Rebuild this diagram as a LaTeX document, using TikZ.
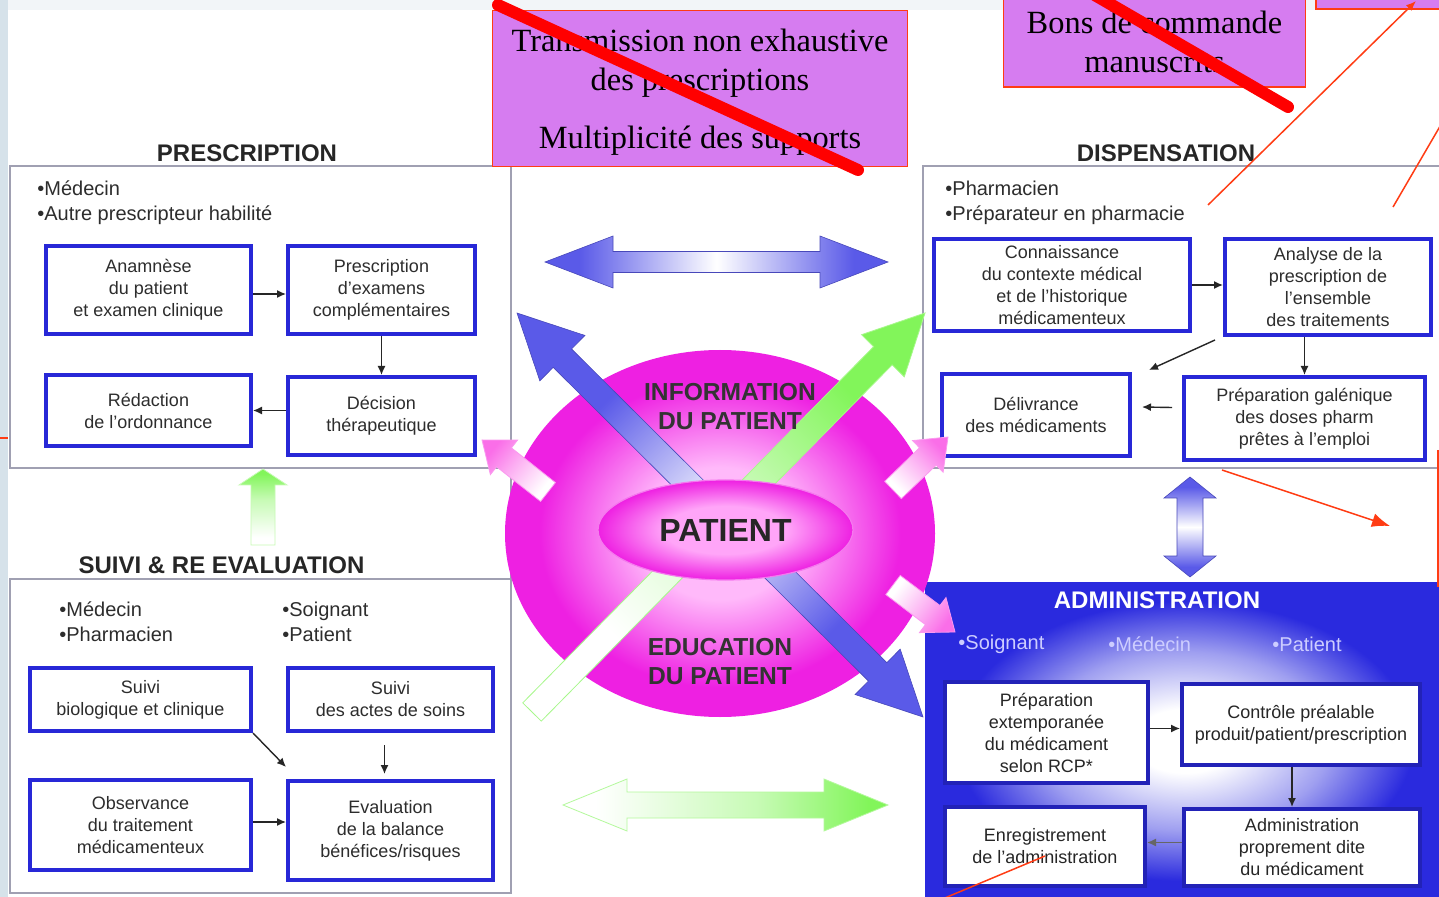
\documentclass[tikz,border=0pt]{standalone}
\usepackage{fontspec}
\setmainfont{Liberation Sans}
\newfontfamily\serifrm{Liberation Serif}
\usetikzlibrary{calc,arrows.meta,shapes.geometric}

\definecolor{boxblue}{RGB}{40,40,215}
\definecolor{grayline}{RGB}{160,160,178}
\definecolor{txt}{RGB}{45,45,45}
\definecolor{ablue}{RGB}{90,90,232}
\definecolor{admblue}{RGB}{42,42,222}
\definecolor{purplebox}{RGB}{214,124,240}
\definecolor{redline}{RGB}{255,60,20}
\definecolor{strike}{RGB}{255,0,0}
\definecolor{mag}{RGB}{238,32,226}
\definecolor{lightmag}{RGB}{255,185,250}
\definecolor{patin}{RGB}{255,165,248}
\definecolor{agreen}{RGB}{130,245,90}
\definecolor{pinkarr}{RGB}{250,110,232}
\definecolor{leftstrip}{RGB}{214,226,234}
\definecolor{topstrip}{RGB}{242,245,248}
\definecolor{lav}{RGB}{205,205,255}

\pgfdeclareradialshading{bigellsh}{\pgfpoint{0bp}{0bp}}{color(0bp)=(lightmag); color(9bp)=(lightmag); color(21bp)=(mag); color(25bp)=(mag); color(50bp)=(mag)}
\pgfdeclareradialshading{patellsh}{\pgfpoint{0bp}{0bp}}{color(0bp)=(patin); color(12bp)=(patin); color(25bp)=(mag); color(50bp)=(mag)}
\pgfdeclareradialshading{admsh}{\pgfpoint{0bp}{0bp}}{color(0bp)=(white); color(5bp)=(white); color(14bp)=(admblue!45!white); color(22bp)=(admblue); color(50bp)=(admblue)}
\pgfdeclarehorizontalshading{bwbh}{100bp}{color(0bp)=(ablue); color(30bp)=(ablue); color(50bp)=(white); color(70bp)=(ablue); color(100bp)=(ablue)}
\pgfdeclarehorizontalshading{gwsh}{100bp}{color(0bp)=(white); color(30bp)=(white); color(55bp)=(agreen!45!white); color(72bp)=(agreen); color(100bp)=(agreen)}
\pgfdeclarehorizontalshading{pwsh}{100bp}{color(0bp)=(white); color(28bp)=(white); color(55bp)=(pinkarr!55!white); color(75bp)=(pinkarr); color(100bp)=(pinkarr)}

% #1 options, #2 tail, #3 tip, #4 head length, #5 shaft half width, #6 head half width
\newcommand\blockarrow[6]{%
  \coordinate (bah) at ($(#3)!#4!(#2)$);
  \path[#1] ($(#2)!#5!90:(#3)$) -- ($(bah)!#5!90:(#3)$) -- ($(bah)!#6!90:(#3)$) -- (#3)
    -- ($(bah)!#6!-90:(#3)$) -- ($(bah)!#5!-90:(#3)$) -- ($(#2)!#5!-90:(#3)$) -- cycle;}
% double headed: #2 end A, #3 end B
\newcommand\dblarrow[6]{%
  \coordinate (daa) at ($(#2)!#4!(#3)$);
  \coordinate (dab) at ($(#3)!#4!(#2)$);
  \path[#1] (#2) -- ($(daa)!#6!90:(#3)$) -- ($(daa)!#5!90:(#3)$) -- ($(dab)!#5!-90:(#2)$)
    -- ($(dab)!#6!-90:(#2)$) -- (#3) -- ($(dab)!#6!90:(#2)$) -- ($(dab)!#5!90:(#2)$)
    -- ($(daa)!#5!-90:(#3)$) -- ($(daa)!#6!-90:(#3)$) -- cycle;}

\begin{document}
\begin{tikzpicture}[x=0.5pt,y=-0.5pt,
  arr/.style={draw=black!85, line width=0.7pt, -{Latex[length=4.5pt,width=4pt]}},
  bbox/.style={draw=boxblue, line width=2pt, fill=white, align=center, text=txt,
     font=\fontsize{9}{11}\selectfont, inner sep=1pt},
  abox/.style={bbox, draw=boxblue!85!black, text=black!85},
  gbox/.style={draw=grayline, line width=0.75pt},
  ttl/.style={font=\fontsize{12}{14}\selectfont\bfseries, text=black!85},
  bul/.style={font=\fontsize{10}{12.5}\selectfont, text=txt, anchor=west, align=left, inner sep=0pt},
  ctext/.style={font=\fontsize{12.3}{14.5}\selectfont\bfseries, text=black!80, align=center},
  pbox/.style={fill=purplebox, draw=redline, line width=0.6pt, inner sep=0pt},
  ptext/.style={align=center, font=\serifrm\fontsize{16.2}{19.5}\selectfont, text=black, inner sep=0pt},
  redthin/.style={draw=redline, line width=0.75pt},
  strikeline/.style={draw=strike, line width=6pt, line cap=round}
]
\useasboundingbox (0,0) rectangle (1439,897);
\clip (0,0) rectangle (1439,897);
\fill[white] (0,0) rectangle (1439,897);
\fill[topstrip] (0,0) rectangle (1439,10);
\fill[leftstrip] (0,0) rectangle (8,897);

% ---------- administration background ----------
\shade[shading=admsh] (925,582) rectangle (1445,900);

% ---------- gray frames ----------
\draw[gbox] (10,166) rectangle (511,468);
\draw[gbox] (10,579) rectangle (511,893);
\draw[gbox] (511,468) -- (511,579);
\draw[gbox] (1445,166) -- (923,166) -- (923,582);
\draw[gbox] (923,468) -- (1445,468);

% ---------- titles ----------
\node[ttl] (tpresc) at (247,153) {PRESCRIPTION};
\node[ttl] (tdisp) at (1166,153) {DISPENSATION};
\node[ttl] (tsuivi) at (221.5,565) {SUIVI \& RE EVALUATION};
\node[ttl, text=white] (tadm) at (1157,600) {ADMINISTRATION};

% ---------- bullets ----------
\node[bul] (bpresc) at (37,203) {•Médecin\\•Autre prescripteur habilité};
\node[bul] (bdisp) at (945,203) {•Pharmacien\\•Préparateur en pharmacie};
\node[bul] (bsuiv1) at (59,621.5) {•Médecin\\•Pharmacien};
\node[bul] (bsuiv2) at (282,621.5) {•Soignant\\•Patient};
\node[bul, text=lav] (badm1) at (958,644) {•Soignant};
\node[bul, text=lav] (badm2) at (1108,644) {•Médecin};
\node[bul, text=lav] (badm3) at (1272,644) {•Patient};

% ---------- prescription ----------
\node[bbox, minimum width=102.5pt, minimum height=44pt] (anam) at (148.5,290) {Anamnèse\\du patient\\et examen clinique};
\node[bbox, minimum width=93.5pt, minimum height=44pt] (presc) at (381.5,290) {Prescription\\d'examens\\complémentaires};
\node[bbox, minimum width=102.5pt, minimum height=35.5pt] (redac) at (148.5,410.5) {Rédaction\\de l'ordonnance};
\node[bbox, minimum width=93.5pt, minimum height=39pt] (decis) at (381.5,416) {Décision\\thérapeutique};
\draw[arr] ($(anam.east)+(0,4)$) -- ($(presc.west)+(0,4)$);
\draw[arr] (presc.south) -- (decis.north);
\draw[arr] (decis.west |- redac.east) -- (redac.east);

% ---------- dispensation ----------
\node[bbox, minimum width=128pt, minimum height=46pt] (conn) at (1062,285) {Connaissance\\du contexte médical\\et de l'historique\\médicamenteux};
\node[bbox, minimum width=103pt, minimum height=48pt] (analyse) at (1328,287) {Analyse de la\\prescription de\\l'ensemble\\des traitements};
\node[bbox, minimum width=94pt, minimum height=41pt] (deliv) at (1036,415) {Délivrance\\des médicaments};
\node[bbox, minimum width=120.5pt, minimum height=41.5pt] (prepgal) at (1304.5,418.5) {Préparation galénique\\des doses pharm\\prêtes à l'emploi};
\draw[arr] (conn.east) -- (analyse.west |- conn.east);
\draw[arr] (prepgal.north |- analyse.south) -- (prepgal.north);
\draw[arr] ($(analyse.south west)+(-8,3)$) -- ($(deliv.north east)+(17,-2)$);
\draw[arr] ($(prepgal.west)+(-10,-11)$) -- ($(deliv.east)+(10,-8)$);

% ---------- administration ----------
\node[abox, minimum width=101.5pt, minimum height=50.5pt] (prepext) at (1046.5,732.5) {Préparation\\extemporanée\\du médicament\\selon RCP*};
\node[abox, minimum width=119pt, minimum height=40.5pt] (controle) at (1301,724.5) {Contrôle préalable\\produit/patient/prescription};
\node[abox, minimum width=100pt, minimum height=39.5pt] (enreg) at (1045,846.5) {Enregistrement\\de l'administration};
\node[abox, minimum width=118pt, minimum height=38.5pt] (adminp) at (1302,847.5) {Administration\\proprement dite\\du médicament};
\draw[arr] ($(prepext.east)+(0,-4)$) -- ($(controle.west)+(0,4)$);
\draw[arr] ($(controle.south)+(-9,0)$) -- ($(controle.south |- adminp.north)+(-9,0)$);
\draw[arr, draw=black!60] ($(adminp.west)+(0,-5)$) -- ($(enreg.east)+(0,-4)$);

% ---------- suivi ----------
\node[bbox, minimum width=110.5pt, minimum height=31.5pt] (suivibio) at (140.5,699.5) {Suivi\\biologique et clinique};
\node[bbox, minimum width=102.5pt, minimum height=31.5pt] (suiviactes) at (390.5,699.5) {Suivi\\des actes de soins};
\node[bbox, minimum width=110.5pt, minimum height=45pt] (observ) at (140.5,825) {Observance\\du traitement\\médicamenteux};
\node[bbox, minimum width=102.5pt, minimum height=49.5pt] (evalu) at (390.5,830.5) {Evaluation\\de la balance\\bénéfices/risques};
\draw[arr] (suivibio.south east) -- ($(evalu.north west)+(0,-12)$);
\draw[arr] ($(suiviactes.south)+(-6,12)$) -- ($(evalu.north)+(-6,-5)$);
\draw[arr] ($(observ.east)+(0,-3)$) -- ($(evalu.west |- observ.east)+(0,-3)$);

% ---------- central ellipse ----------
\node[ellipse, shade, shading=bigellsh, minimum width=215pt, minimum height=183.5pt, inner sep=0pt] (bigell) at (720,533.5) {};

% diagonal arrows
\coordinate (bdA) at (517,313); \coordinate (bdB) at (923,717);
\dblarrow{shade, shading=bwbh, shading angle=-45, draw=ablue!80!black, line width=0.3pt}{bdA}{bdB}{32pt}{6.5pt}{16pt}
\coordinate (gdA) at (532,712); \coordinate (gdB) at (925,313);
\blockarrow{shade, shading=gwsh, shading angle=45, draw=agreen!70!white, line width=0.4pt}{gdA}{gdB}{30pt}{6.5pt}{15pt}

% pink arrows
\coordinate (pulA) at (548,492); \coordinate (pulB) at (482,440);
\blockarrow{shade, shading=pwsh, shading angle=141, draw=pinkarr!70!white, line width=0.4pt}{pulA}{pulB}{14pt}{6pt}{11pt}
\coordinate (purA) at (893,490); \coordinate (purB) at (948,437);
\blockarrow{shade, shading=pwsh, shading angle=44, draw=pinkarr!70!white, line width=0.4pt}{purA}{purB}{14pt}{6pt}{11pt}
\coordinate (plrA) at (893,585); \coordinate (plrB) at (955,632);
\blockarrow{shade, shading=pwsh, shading angle=-37, draw=pinkarr!70!white, line width=0.4pt}{plrA}{plrB}{14pt}{6pt}{11pt}

\node[ellipse, shade, shading=patellsh, draw=mag!60!white, line width=0.6pt, minimum width=127.5pt, minimum height=50pt, inner sep=0pt,
      font=\fontsize{16}{18}\selectfont\bfseries, text=black!85] (patient) at (725.5,530) {PATIENT};
\node[ctext] (info) at (730,406.5) {INFORMATION\\DU PATIENT};
\node[ctext] (educ) at (720,661.5) {EDUCATION\\DU PATIENT};

% horizontal / vertical block arrows
\coordinate (tbL) at (545,262); \coordinate (tbR) at (888,262);
\dblarrow{shade, shading=bwbh, shading angle=0, draw=ablue!80!black, line width=0.3pt}{tbL}{tbR}{34pt}{5.25pt}{13pt}
\coordinate (gbL) at (563,805); \coordinate (gbR) at (888,805);
\dblarrow{shade, shading=gwsh, shading angle=0, draw=agreen!60!white, line width=0.4pt}{gbL}{gbR}{32pt}{6.5pt}{13pt}
\coordinate (vbT) at (1190,477); \coordinate (vbB) at (1190,577);
\dblarrow{shade, shading=bwbh, shading angle=90, draw=ablue!80!black, line width=0.3pt}{vbT}{vbB}{10.5pt}{6.5pt}{13pt}
\coordinate (guA) at (263,545); \coordinate (guB) at (263,469);
\blockarrow{shade, shading=gwsh, shading angle=90, draw=agreen!45!white, line width=0.4pt}{guA}{guB}{8pt}{6pt}{12pt}

% ---------- purple boxes ----------
\node[pbox, minimum width=207.5pt, minimum height=78pt] (transm) at (700,88.5) {};
\node[ptext] (transmtxt) at (700,92)
  {Transmission non exhaustive\\des prescriptions\\[9.5pt]Multiplicité des supports};
\node[pbox, minimum width=151pt, minimum height=46pt] (bons) at (1154.5,41) {};
\node[ptext] (bonstxt) at (1154.5,42) {Bons de commande\\manuscrits};
\node[pbox, minimum width=72pt, minimum height=14.5pt] (third) at (1388,-5.5) {};

% strike lines
\coordinate (s1A) at (498,5); \coordinate (s1B) at (858,170);
\draw[strikeline] (s1A) -- (s1B);
\coordinate (s2A) at (1086,-10); \coordinate (s2B) at (1288,107);
\draw[strikeline] (s2A) -- (s2B);

% thin red annotation lines
\coordinate (r1A) at (1208,205); \coordinate (r1B) at (1416,1);
\draw[redthin, -{Latex[length=5pt,width=4pt]}] (r1A) -- (r1B);
\coordinate (r2A) at (1393,207); \coordinate (r2B) at (1446,116);
\draw[redthin] (r2A) -- (r2B);
\coordinate (r3A) at (1222,470); \coordinate (r3B) at (1390,526);
\draw[redthin, -{Latex[length=9pt,width=7pt]}] (r3A) -- (r3B);
\coordinate (r4A) at (1438,450); \coordinate (r4B) at (1438,587);
\draw[redthin, line width=1pt] (r4A) -- (r4B);
\coordinate (r5A) at (940,900); \coordinate (r5B) at (1045,856);
\draw[redthin] (r5A) -- (r5B);
\coordinate (r6A) at (0,438); \coordinate (r6B) at (8,438);
\draw[redthin] (r6A) -- (r6B);
\end{tikzpicture}
\end{document}
